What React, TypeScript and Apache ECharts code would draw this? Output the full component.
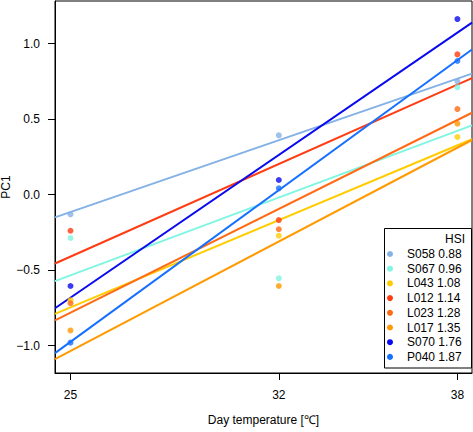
import React, { useEffect, useRef } from "react";
import * as echarts from "echarts";

const temps = [25, 32, 38];
const xTicks = [25, 32, 38];
const yTicks = [-1, -0.5, 0, 0.5, 1];
const yTickLabels = ["\u22121.0", "\u22120.5", "0.0", "0.5", "1.0"];
const lineNames = ["S058", "S067", "L043", "L012", "L023", "L017", "S070", "P040"];
const hsi = [0.88, 0.96, 1.08, 1.14, 1.28, 1.35, 1.76, 1.87];
const colors = ["#84B1E6", "#7FF5E2", "#FFCC00", "#FF3B12", "#FF6A14", "#FF9A00", "#0A0AF0", "#1670FF"];

const S058 = [-0.131, 0.392, 0.75];
const S067 = [-0.288, -0.555, 0.71];
const L043 = [-0.70, -0.273, 0.381];
const L012 = [-0.24, -0.169, 0.928];
const L023 = [-0.72, -0.23, 0.566];
const L017 = [-0.9, -0.606, 0.469];
const S070 = [-0.606, 0.096, 1.162];
const P040 = [-0.981, 0.041, 0.884];
const values = [S058, S067, L043, L012, L023, L017, S070, P040];

const X_MIN = 24.48;
const X_MAX = 38.49;
const Y_MIN = -1.182;
const Y_MAX = 1.2815;

function fit(xs: number[], ys: number[]) {
  const n = xs.length;
  const mx = xs.reduce((a, b) => a + b, 0) / n;
  const my = ys.reduce((a, b) => a + b, 0) / n;
  let sxy = 0;
  let sxx = 0;
  for (let i = 0; i < n; i++) {
    sxy += (xs[i] - mx) * (ys[i] - my);
    sxx += (xs[i] - mx) * (xs[i] - mx);
  }
  const b = sxy / sxx;
  const a = my - b * mx;
  return (x: number) => a + b * x;
}

const FONT = "'Liberation Sans', Arial, Helvetica, sans-serif";
const FS = 12;

export default function App() {
  const ref = useRef<HTMLDivElement>(null);
  useEffect(() => {
    if (!ref.current) return;
    const chart = echarts.init(ref.current, undefined, { renderer: "svg" });
    const series: any[] = [];
    lineNames.forEach((nm, i) => {
      const f = fit(temps, values[i]);
      series.push({
        type: "line",
        name: nm + "_fit",
        data: [
          [X_MIN, f(X_MIN)],
          [X_MAX, f(X_MAX)],
        ],
        showSymbol: false,
        symbol: "none",
        clip: true,
        lineStyle: { color: colors[i], width: 2 },
        z: 2,
        silent: true,
      });
    });
    lineNames.forEach((nm, i) => {
      series.push({
        type: "scatter",
        name: nm,
        data: temps.map((t, j) => [t, values[i][j]]),
        symbol: "circle",
        symbolSize: 6,
        itemStyle: { color: colors[i] },
        z: 3,
        silent: true,
      });
    });

    const legX = 384.5;
    const legTop = 228.5;
    const legW = 87;
    const legH = 139.5;
    const rowH = 14.7;
    const firstRow = 254;
    const legendEls: any[] = [
      {
        type: "rect",
        shape: { x: legX, y: legTop, width: legW, height: legH },
        style: { fill: "#fff", stroke: "#000", lineWidth: 1 },
        z: 10,
      },
      {
        type: "text",
        x: 455,
        y: firstRow - rowH,
        style: { text: "HSI", font: `${FS}px ${FONT}`, fill: "#000", align: "center", verticalAlign: "middle" },
        z: 11,
      },
    ];
    lineNames.forEach((nm, i) => {
      const cy = firstRow + i * rowH;
      legendEls.push({
        type: "circle",
        shape: { cx: 390, cy, r: 3 },
        style: { fill: colors[i] },
        z: 11,
      });
      legendEls.push({
        type: "text",
        x: 407,
        y: cy,
        style: {
          text: `${nm} ${hsi[i].toFixed(2)}`,
          font: `${FS}px ${FONT}`,
          fill: "#000",
          align: "left",
          verticalAlign: "middle",
        },
        z: 11,
      });
    });

    chart.setOption({
      animation: false,
      backgroundColor: "#fff",
      textStyle: { fontFamily: FONT },
      grid: {
        left: 55,
        right: 1,
        top: 1,
        bottom: 59,
        show: true,
        borderColor: "#000",
        borderWidth: 1,
        backgroundColor: "transparent",
      },
      xAxis: {
        type: "value",
        min: X_MIN,
        max: X_MAX,
        name: "Day temperature [\u2103]",
        nameLocation: "middle",
        nameGap: 41,
        nameTextStyle: { fontSize: FS, color: "#000", fontFamily: FONT },
        splitLine: { show: false },
        axisLine: { show: true, onZero: false, lineStyle: { color: "#000", width: 1 } },
        axisTick: { show: true, length: 7, customValues: xTicks, lineStyle: { color: "#000" } },
        axisLabel: {
          customValues: xTicks,
          margin: 16,
          fontSize: FS,
          color: "#000",
          fontFamily: FONT,
          formatter: (v: number) => String(Math.round(v)),
        },
      },
      yAxis: {
        type: "value",
        min: Y_MIN,
        max: Y_MAX,
        splitLine: { show: false },
        axisLine: { show: true, onZero: false, lineStyle: { color: "#000", width: 1 } },
        axisTick: { show: true, length: 7, customValues: yTicks, lineStyle: { color: "#000" } },
        axisLabel: {
          customValues: yTicks,
          margin: 15,
          fontSize: FS,
          color: "#000",
          fontFamily: FONT,
          formatter: (v: number) => {
            const idx = yTicks.findIndex((t) => Math.abs(t - v) < 1e-6);
            return idx >= 0 ? yTickLabels[idx] : "";
          },
        },
      },
      graphic: [
        {
          type: "text",
          x: 6,
          y: 187,
          rotation: Math.PI / 2,
          style: { text: "PC1", font: `${FS}px ${FONT}`, fill: "#000", align: "center", verticalAlign: "middle" },
        },
        ...legendEls,
      ],
      series,
    });
    return () => chart.dispose();
  }, []);
  return <div ref={ref} style={{ width: 473, height: 432, position: "absolute", left: 0, top: 0 }} />;
}
